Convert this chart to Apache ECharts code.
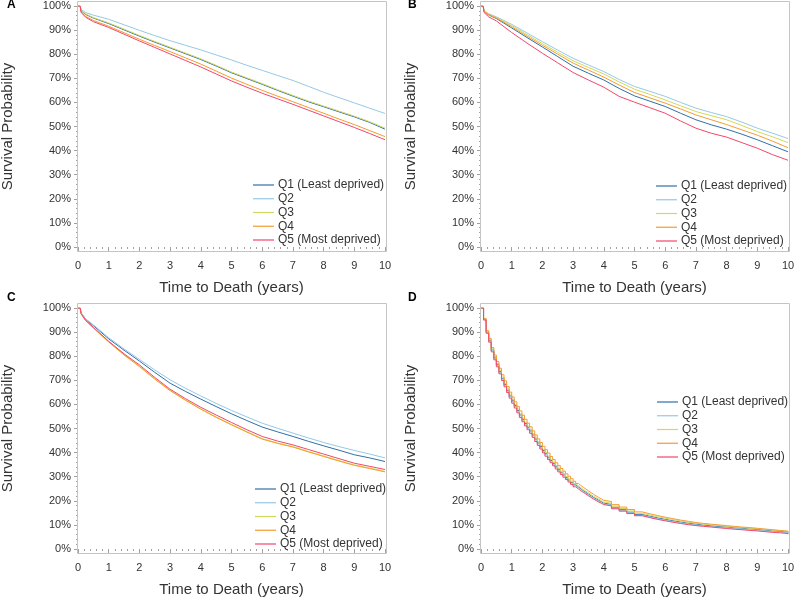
<!DOCTYPE html>
<html>
<head>
<meta charset="utf-8">
<script src="https://cdn.jsdelivr.net/npm/echarts@6/dist/echarts.min.js"></script>
<style>html,body{margin:0;padding:0;background:#fff;}#c{width:795px;height:601px;}</style>
</head>
<body>
<div id="c"></div>
<script>
// ---------- data ----------
const seriesNames = ['Q1 (Least deprived)', 'Q2', 'Q3', 'Q4', 'Q5 (Most deprived)'];
const panelLetters = ['A', 'B', 'C', 'D'];
const xTicks = [0,1,2,3,4,5,6,7,8,9,10];
const yTicks = [0,10,20,30,40,50,60,70,80,90,100];

// time grid for panels A-C (years)
const tABC = [0,0.07,0.1,0.25,0.5,1,1.5,2,2.5,3,3.5,4,4.5,5,5.5,6,6.5,7,7.5,8,8.5,9,9.5,10];

// Panel A
const A_Q1 = [100,100,98.0,96.5,95.0,92.7,90.1,87.5,85.0,82.6,80.2,77.8,75.1,72.3,69.9,67.5,65.0,62.6,60.3,58.2,56.1,54.0,51.7,48.9];
const A_Q2 = [100,100,98.5,97.3,96.2,94.5,92.2,89.9,87.7,85.6,83.7,81.8,79.7,77.6,75.4,73.3,71.2,69.1,66.7,64.2,62.0,59.8,57.6,55.4];
const A_Q3 = [100,100,98.2,96.7,95.2,93.0,90.4,87.8,85.3,82.9,80.5,78.1,75.4,72.6,70.2,67.8,65.3,62.9,60.6,58.5,56.4,54.3,52.0,49.3];
const A_Q4 = [100,100,97.6,95.7,94.0,91.6,88.9,86.2,83.6,81.1,78.5,75.9,73.0,70.1,67.5,65.0,62.6,60.3,57.9,55.5,53.1,50.8,48.3,45.8];
const A_Q5 = [100,100,97.4,95.3,93.5,91.1,88.3,85.5,82.8,80.1,77.4,74.7,71.8,68.9,66.3,63.8,61.5,59.2,56.8,54.4,52.0,49.6,47.1,44.5];

// Panel B
const B_Q1 = [100,100,97.8,96.3,94.8,90.9,86.9,83.0,79.0,75.0,72.1,69.3,65.8,62.7,60.5,58.3,55.5,52.8,50.7,48.9,46.8,44.5,42.0,39.5];
const B_Q2 = [100,100,98.0,96.8,95.5,92.4,88.8,85.2,81.7,78.3,75.5,72.8,69.5,66.6,64.6,62.5,60.0,57.6,55.8,54.1,51.8,49.3,47.2,45.0];
const B_Q3 = [100,100,97.9,96.6,95.2,91.9,88.1,84.4,80.8,77.3,74.5,71.8,68.5,65.5,63.3,61.0,58.6,56.2,54.5,52.8,50.4,47.9,45.7,43.3];
const B_Q4 = [100,100,97.8,96.4,95.0,91.4,87.5,83.7,80.0,76.3,73.4,70.5,67.2,64.1,61.9,59.7,57.3,54.8,52.8,50.8,48.6,46.4,43.9,41.2];
const B_Q5 = [100,100,97.3,95.5,93.8,89.0,84.6,80.4,76.4,72.4,69.3,66.3,62.5,60.1,57.8,55.5,52.3,49.3,47.2,45.6,43.3,41.0,38.3,36.0];

// Panel C
const C_Q1 = [100,100,97.9,95.3,92.7,87.2,82.5,78.0,73.3,68.8,65.4,62.2,59.1,56.1,53.3,50.6,48.6,46.7,44.7,42.8,41.0,39.1,37.8,36.3];
const C_Q2 = [100,100,98.0,95.5,93.0,87.7,83.0,78.7,74.3,70.2,66.7,63.5,60.4,57.5,54.8,52.2,50.1,48.1,46.1,44.2,42.5,40.9,39.4,37.8];
const C_Q3 = [100,100,97.6,94.8,91.8,86.0,80.7,75.9,70.7,65.9,61.9,58.2,54.8,51.7,48.7,45.8,44.0,42.5,40.5,38.6,36.7,34.9,33.6,32.2];
const C_Q4 = [100,100,97.6,94.7,91.7,85.9,80.5,75.7,70.5,65.7,61.7,58.0,54.6,51.5,48.5,45.6,43.8,42.3,40.3,38.4,36.5,34.7,33.4,32.0];
const C_Q5 = [100,100,97.7,94.9,92.0,86.2,81.0,76.4,71.2,66.3,62.4,58.8,55.6,52.5,49.5,46.7,44.8,43.2,41.3,39.4,37.5,35.6,34.3,33.0];

// Panel D (monthly to 4 years, then quarterly)
const tD = [0,0.083,0.167,0.25,0.333,0.417,0.5,0.583,0.667,0.75,0.833,0.917,1,1.083,1.167,1.25,1.333,1.417,1.5,1.583,1.667,1.75,1.833,1.917,2,2.083,2.167,2.25,2.333,2.417,2.5,2.583,2.667,2.75,2.833,2.917,3,
  3.083,3.167,3.25,3.333,3.417,3.5,3.583,3.667,3.75,3.833,3.917,
  4,4.25,4.5,4.75,5,5.25,5.5,5.75,6,6.25,6.5,6.75,7,7.25,7.5,7.75,8,8.25,8.5,8.75,9,9.25,9.5,9.75,10];
const D_Q1 = [100,95.3,90.0,86.5,82.5,79.3,76.5,73.6,70.8,68.2,65.8,63.5,61.5,59.5,57.5,55.6,53.8,52.1,50.5,49.0,47.3,45.6,44.0,42.5,40.9,39.5,38.1,36.7,35.4,34.1,32.9,31.8,30.7,29.6,28.6,27.6,26.6,
  25.8,25.0,24.2,23.5,22.8,22.1,21.4,20.8,20.2,19.6,19.0,
  18.5,17.3,16.3,15.3,14.3,13.6,12.9,12.3,11.7,11.2,10.7,10.3,9.9,9.6,9.3,9.1,8.8,8.6,8.3,8.1,7.8,7.5,7.3,7.0,6.6];
const D_Q2 = [100,95.2,89.8,86.3,82.3,79.0,76.2,73.3,70.5,67.9,65.5,63.2,61.1,59.1,57.1,55.2,53.4,51.7,50.1,48.6,46.9,45.2,43.6,42.1,40.5,39.1,37.7,36.4,35.1,33.8,32.6,31.5,30.4,29.3,28.3,27.3,26.3,
  25.5,24.7,23.9,23.2,22.5,21.8,21.1,20.5,19.9,19.3,18.7,
  18.2,17.0,16.0,15.0,14.0,13.3,12.6,12.0,11.4,10.9,10.4,10.0,9.6,9.3,9.0,8.8,8.5,8.3,8.0,7.8,7.5,7.2,7.0,6.8,6.5];
const D_Q3 = [100,95.5,90.3,86.9,83.0,79.8,77.0,74.1,71.3,68.7,66.3,64.0,62.0,60.0,58.0,56.1,54.3,52.6,51.0,49.5,47.8,46.1,44.5,43.0,41.4,40.0,38.6,37.2,35.9,34.6,33.4,32.3,31.2,30.1,29.1,28.1,27.1,
  26.3,25.5,24.7,24.0,23.3,22.6,21.9,21.3,20.7,20.1,19.5,
  19.0,17.8,16.8,15.8,14.8,14.1,13.4,12.8,12.2,11.6,11.1,10.7,10.3,10.0,9.7,9.4,9.1,8.9,8.6,8.4,8.1,7.8,7.6,7.3,6.9];
const D_Q4 = [100,95.6,90.6,87.4,83.6,80.5,77.8,75.0,72.3,69.8,67.4,65.1,63.1,61.1,59.2,57.3,55.5,53.8,52.2,50.7,49.0,47.3,45.7,44.2,42.6,41.2,39.8,38.4,37.1,35.8,34.6,33.4,32.3,31.2,30.2,29.2,28.1,
  27.2,26.4,25.6,24.9,24.1,23.4,22.7,22.0,21.4,20.8,20.2,
  19.7,18.4,17.4,16.4,15.4,14.6,13.9,13.2,12.6,12.0,11.5,11.0,10.6,10.3,10.0,9.7,9.4,9.1,8.9,8.6,8.3,8.0,7.7,7.4,7.0];
const D_Q5 = [100,95.0,89.5,85.8,81.8,78.5,75.6,72.7,69.9,67.3,64.9,62.6,60.5,58.5,56.5,54.6,52.8,51.1,49.5,48.0,46.3,44.6,43.0,41.5,39.9,38.5,37.1,35.8,34.5,33.2,32.0,30.9,29.8,28.8,27.8,26.8,25.8,
  25.0,24.2,23.5,22.8,22.1,21.4,20.7,20.1,19.5,19.0,18.4,
  17.9,16.7,15.7,14.7,13.8,13.0,12.3,11.7,11.1,10.6,10.1,9.7,9.4,9.1,8.8,8.5,8.2,8.0,7.7,7.5,7.2,6.9,6.7,6.4,6.1];

// ---------- layout / style ----------
const colors = ['#2f6fa8', '#94c9e4', '#d2d85e', '#f59b30', '#f2466a'];
const FONT = '"Liberation Sans", Arial, sans-serif';
const TXT = '#333333';
const FRAME = '#c4c4c4';

const panels = [
  {times: tABC, data: [A_Q1, A_Q2, A_Q3, A_Q4, A_Q5], step: false, left: 78, top: 6, frame: [77, 1], legend: [253, 179], letter: [7, 5]},
  {times: tABC, data: [B_Q1, B_Q2, B_Q3, B_Q4, B_Q5], step: false, left: 481, top: 6, frame: [480, 1], legend: [656, 180], letter: [408, 5]},
  {times: tABC, data: [C_Q1, C_Q2, C_Q3, C_Q4, C_Q5], step: false, left: 78, top: 308, frame: [77, 303], legend: [255, 483], letter: [7, 298]},
  {times: tD,   data: [D_Q1, D_Q2, D_Q3, D_Q4, D_Q5], step: 'end', left: 481, top: 308, frame: [480, 303], legend: [657, 396], letter: [408, 298]}
];
const GW = 307, GH = 241;

const grid = [], xAxis = [], yAxis = [], series = [], legend = [], graphic = [];
panels.forEach((p, i) => {
  grid.push({left: p.left, top: p.top, width: GW, height: GH, outerBoundsMode: 'none', containLabel: false});
  xAxis.push({
    type: 'value', gridIndex: i, min: 0, max: 10, interval: 1, offset: 4,
    name: 'Time to Death (years)', nameLocation: 'middle', nameGap: 29.5,
    nameTextStyle: {fontFamily: FONT, fontSize: 15, color: TXT},
    axisLine: {show: false},
    axisTick: {show: true, length: 4, lineStyle: {color: '#a0a0a0'}},
    minorTick: {show: true, splitNumber: 5, length: 2, lineStyle: {color: '#a0a0a0'}},
    splitLine: {show: false}, minorSplitLine: {show: false},
    axisLabel: {fontFamily: FONT, fontSize: 11, color: TXT, margin: 9, showMinLabel: true, showMaxLabel: true}
  });
  yAxis.push({
    type: 'value', gridIndex: i, min: 0, max: 100, interval: 10, offset: 1,
    name: 'Survival Probability', nameLocation: 'middle', nameGap: 62,
    nameTextStyle: {fontFamily: FONT, fontSize: 15, color: TXT},
    axisLine: {show: false},
    axisTick: {show: true, length: 4, lineStyle: {color: '#a0a0a0'}},
    minorTick: {show: true, splitNumber: 5, length: 2, lineStyle: {color: '#a0a0a0'}},
    splitLine: {show: false}, minorSplitLine: {show: false},
    axisLabel: {fontFamily: FONT, fontSize: 11, color: TXT, margin: 6, formatter: v => v + '%', showMinLabel: true, showMaxLabel: true}
  });
  p.data.forEach((vals, q) => {
    series.push({
      type: 'line', name: seriesNames[q], xAxisIndex: i, yAxisIndex: i,
      data: p.times.map((t, k) => [t, vals[k]]),
      step: p.step, symbol: 'none', showSymbol: false, smooth: false,
      lineStyle: {width: 1, color: colors[q]}, itemStyle: {color: colors[q]},
      emphasis: {disabled: true}, silent: true, z: 2 + q
    });
  });
  legend.push({
    orient: 'vertical', left: p.legend[0], top: p.legend[1], padding: 0,
    icon: 'rect', itemWidth: 21, itemHeight: 1.2, itemGap: 1.75,
    selectedMode: false,
    textStyle: {fontFamily: FONT, fontSize: 12, color: TXT, lineHeight: 12, padding: [0, 0, 0, -1]},
    data: seriesNames.slice()
  });
  graphic.push({
    type: 'rect', silent: true, z: 10,
    shape: {x: p.frame[0] + 0.5, y: p.frame[1] + 0.5, width: 309, height: 250},
    style: {fill: 'none', stroke: FRAME, lineWidth: 1}
  });
  graphic.push({
    type: 'text', silent: true, z: 10, x: p.letter[0], y: p.letter[1],
    style: {text: panelLetters[i], font: 'bold 12px ' + FONT, fill: '#000', verticalAlign: 'middle', align: 'left'}
  });
});

const chart = echarts.init(document.getElementById('c'), null, {renderer: 'canvas'});
chart.setOption({
  animation: false,
  backgroundColor: '#fff',
  grid, xAxis, yAxis, series, legend, graphic,
  tooltip: {show: false}
});
</script>
</body>
</html>
